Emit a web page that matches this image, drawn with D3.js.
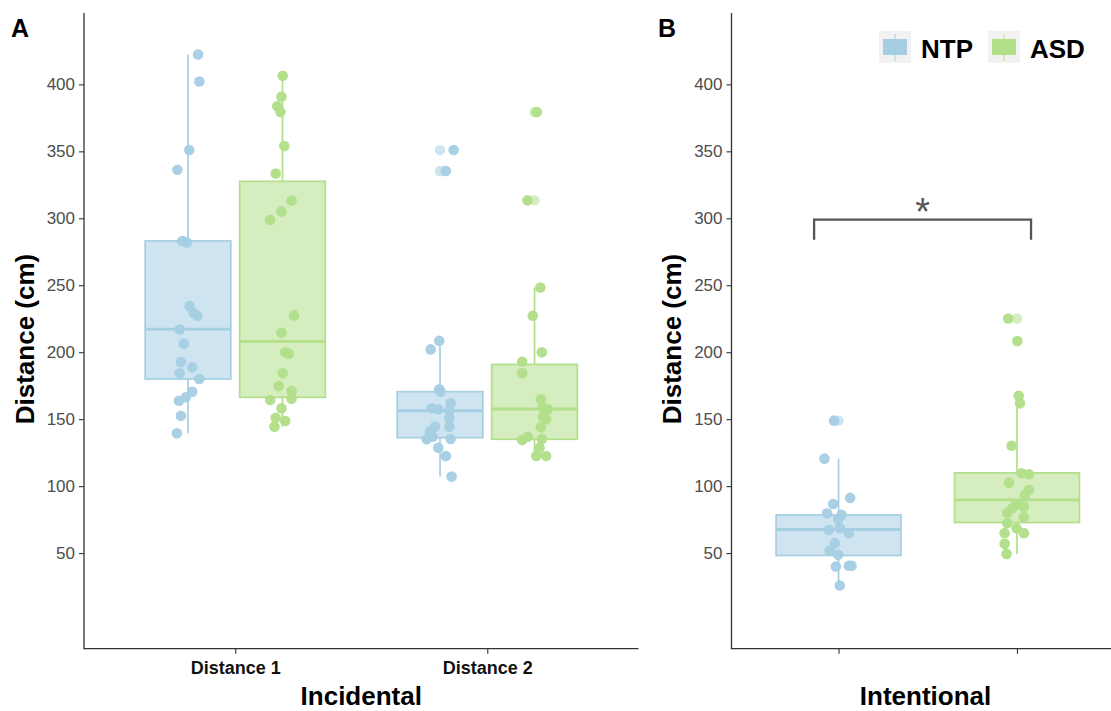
<!DOCTYPE html>
<html>
<head>
<meta charset="utf-8">
<script src="https://cdn.jsdelivr.net/npm/d3@7"></script>
<style>
  html, body { margin: 0; padding: 0; background: #fff; }
  svg { display: block; font-family: "Liberation Sans", Arial, sans-serif; }
</style>
</head>
<body>
<svg id="chart" width="1111" height="711"></svg>
<script>
// ---------------- DATA ----------------
const categoriesA = ["Distance 1", "Distance 2"];
const categoriesB = ["NTP", "ASD"];
const groups = ["NTP", "ASD"];
const yTicks = [50, 100, 150, 200, 250, 300, 350, 400];

// box statistics: [low whisker, q1, median, q3, high whisker]
const boxNTP_D1 = [139.5, 180.0, 217.2, 283.1, 422.3];
const boxASD_D1 = [144.4, 166.3, 208.1, 327.6, 406.4];
const boxNTP_D2 = [107.1, 136.2, 156.3, 170.5, 208.5];
const boxASD_D2 = [122.5, 135.0, 157.6, 190.9, 248.3];
const boxNTP_B  = [25.8, 48.2, 67.6, 78.5, 120.5];
const boxASD_B  = [49.4, 72.8, 89.7, 109.9, 167.5];

// boxplot outliers
const outNTP_D1 = [];
const outASD_D1 = [];
const outNTP_D2 = [351.0, 335.3];
const outASD_D2 = [379.3, 313.4];
const outNTP_B  = [148.9];
const outASD_B  = [225.2];

// individual observations (cm) and their horizontal jitter (category units)
const ptsNTP_D1 = [422.3, 402.2, 351.0, 336.3, 283.1, 281.9, 234.4, 229.0, 227.2, 217.0, 206.3, 192.6, 188.7, 184.2, 180.0, 170.5, 166.3, 163.8, 152.6, 139.5];
const jitNTP_D1 = [0.040, 0.045, 0.005, -0.042, -0.023, -0.005, 0.007, 0.024, 0.037, -0.033, -0.016, -0.028, 0.017, -0.033, 0.045, 0.017, -0.009, -0.036, -0.028, -0.044];

const ptsASD_D1 = [406.4, 390.8, 383.6, 379.3, 353.9, 333.4, 313.2, 305.0, 298.8, 227.5, 214.5, 199.9, 198.8, 184.2, 174.7, 171.0, 165.3, 164.3, 158.1, 151.1, 148.6, 144.4];
const jitASD_D1 = [0.001, -0.004, -0.021, -0.008, 0.007, -0.027, 0.036, -0.004, -0.049, 0.046, -0.004, 0.011, 0.025, 0.001, -0.015, 0.036, 0.036, -0.049, -0.004, -0.027, 0.011, -0.032];

const ptsNTP_D2 = [351.0, 335.3, 208.5, 202.1, 172.3, 170.5, 161.8, 158.1, 157.4, 156.3, 150.6, 144.4, 144.4, 140.7, 135.0, 136.9, 135.2, 128.7, 122.5, 107.1];
const jitNTP_D2 = [0.054, 0.023, -0.003, -0.037, -0.003, 0.002, 0.042, -0.033, -0.007, 0.037, 0.037, 0.037, -0.020, -0.040, -0.053, -0.029, 0.042, -0.007, 0.023, 0.046];

const ptsASD_D2 = [379.3, 313.4, 248.3, 227.2, 199.9, 192.9, 184.2, 164.8, 158.8, 157.4, 151.8, 149.9, 143.9, 136.9, 134.4, 135.2, 128.7, 122.5, 122.5];
const jitASD_D2 = [0.009, -0.028, 0.023, -0.007, 0.029, -0.049, -0.049, 0.025, 0.033, 0.053, 0.033, 0.046, 0.025, -0.027, -0.049, 0.029, 0.020, 0.007, 0.046];

const ptsNTP_B = [148.9, 120.5, 91.2, 86.7, 79.8, 78.5, 75.3, 68.6, 67.3, 64.9, 57.4, 51.9, 48.7, 40.0, 40.5, 40.5, 25.8];
const jitNTP_B = [-0.025, -0.079, 0.065, -0.030, -0.064, 0.017, -0.002, 0.007, -0.054, 0.058, -0.021, -0.049, -0.002, -0.015, 0.058, 0.073, 0.007];

const ptsASD_B = [225.2, 208.3, 167.5, 161.8, 130.2, 109.6, 108.9, 102.6, 97.2, 93.4, 86.7, 83.5, 84.7, 80.2, 76.8, 72.3, 68.6, 64.9, 64.9, 56.9, 49.4];
const jitASD_B = [-0.049, 0.002, 0.010, 0.017, -0.030, 0.026, 0.067, -0.045, 0.067, 0.045, -0.002, -0.026, 0.039, -0.054, 0.039, -0.054, -0.002, 0.039, -0.069, -0.069, -0.058];

// significance comparison (panel B): bracket ends in category units, heights in cm
const sigBracket = [0.863, 2.079];
const sigHeights = [284.0, 299.0];
const sigLabel = "*";

// ---------------- STYLE ----------------
const colors = { NTP: "#a6cee3", ASD: "#b2df8a" };
const FONT = '"Liberation Sans", Arial, sans-serif';

const svg = d3.select("#chart");

const y = d3.scaleLinear().domain([-21.4, 453.3]).range([648.7, 13]);
const xA = d3.scaleLinear().domain([0.4, 2.6]).range([84, 638.5]);
const xB = d3.scaleLinear().domain([0.4, 2.6]).range([731.5, 1124]);

function drawYAxis(g, x0) {
  const ax = g.append("g").attr("transform", `translate(${x0},0)`)
    .call(d3.axisLeft(y).tickValues(yTicks).tickSize(5).tickPadding(4).tickFormat(d3.format("d")));
  ax.select(".domain").remove();
  ax.selectAll(".tick line").attr("stroke", "#333").attr("stroke-width", 1.1);
  ax.selectAll(".tick text").attr("fill", "#4d4d4d").style("font-size", "17px").style("font-family", FONT);
  g.append("line").attr("x1", x0).attr("x2", x0).attr("y1", y.range()[1]).attr("y2", y.range()[0] + 0.5)
    .attr("stroke", "#333").attr("stroke-width", 1.3);
}

function drawXAxis(g, xs, labels, tickVals) {
  const ax = g.append("g").attr("transform", `translate(0,${y.range()[0]})`)
    .call(d3.axisBottom(xs).tickValues(tickVals).tickSize(5).tickPadding(8)
      .tickFormat((d, i) => labels[i]));
  ax.select(".domain").remove();
  ax.selectAll(".tick line").attr("stroke", "#333").attr("stroke-width", 1.1);
  ax.selectAll(".tick text").attr("fill", "#111").style("font-size", "18px")
    .style("font-weight", "bold").style("font-family", FONT);
  g.append("line").attr("x1", xs.range()[0]).attr("x2", xs.range()[1])
    .attr("y1", y.range()[0]).attr("y2", y.range()[0]).attr("stroke", "#333").attr("stroke-width", 1.3);
}

function drawBox(g, xs, center, halfW, stats, outliers, pts, jit, color) {
  const [lo, q1, med, q3, hi] = stats;
  const cx = xs(center);
  const x0 = xs(center - halfW), x1 = xs(center + halfW);
  g.append("line").attr("x1", cx).attr("x2", cx).attr("y1", y(q3)).attr("y2", y(hi))
    .attr("stroke", color).attr("stroke-width", 1.7);
  g.append("line").attr("x1", cx).attr("x2", cx).attr("y1", y(q1)).attr("y2", y(lo))
    .attr("stroke", color).attr("stroke-width", 1.7);
  g.append("rect").attr("x", x0).attr("y", y(q3)).attr("width", x1 - x0).attr("height", y(q1) - y(q3))
    .attr("fill", color).attr("fill-opacity", 0.55).attr("stroke", color).attr("stroke-width", 1.7);
  g.append("line").attr("x1", x0).attr("x2", x1).attr("y1", y(med)).attr("y2", y(med))
    .attr("stroke", color).attr("stroke-width", 2.8);
  g.selectAll(null).data(outliers).enter().append("circle")
    .attr("cx", cx).attr("cy", d => y(d)).attr("r", 5.2)
    .attr("fill", color).attr("fill-opacity", 0.55);
  g.selectAll(null).data(pts.map((v, i) => [v, jit[i]])).enter().append("circle")
    .attr("cx", d => xs(center + d[1])).attr("cy", d => y(d[0])).attr("r", 5.3)
    .attr("fill", color).attr("fill-opacity", 0.97);
}

// ---------------- PANEL A ----------------
const gA = svg.append("g");
const dodge = 0.1875, halfA = 0.17;
drawBox(gA, xA, 1 - dodge, halfA, boxNTP_D1, outNTP_D1, ptsNTP_D1, jitNTP_D1, colors.NTP);
drawBox(gA, xA, 1 + dodge, halfA, boxASD_D1, outASD_D1, ptsASD_D1, jitASD_D1, colors.ASD);
drawBox(gA, xA, 2 - dodge, halfA, boxNTP_D2, outNTP_D2, ptsNTP_D2, jitNTP_D2, colors.NTP);
drawBox(gA, xA, 2 + dodge, halfA, boxASD_D2, outASD_D2, ptsASD_D2, jitASD_D2, colors.ASD);
drawYAxis(gA, xA.range()[0]);
drawXAxis(gA, xA, categoriesA, [1, 2]);

// ---------------- PANEL B ----------------
const gB = svg.append("g");
drawBox(gB, xB, 1, 0.35, boxNTP_B, outNTP_B, ptsNTP_B, jitNTP_B, colors.NTP);
drawBox(gB, xB, 2, 0.35, boxASD_B, outASD_B, ptsASD_B, jitASD_B, colors.ASD);
drawYAxis(gB, xB.range()[0]);
drawXAxis(gB, xB, ["", ""], [1, 2]);

const [bx0, bx1] = sigBracket.map(xB);
const [hLo, hHi] = sigHeights.map(y);
gB.append("path")
  .attr("d", `M${bx0},${hLo} L${bx0},${hHi} L${bx1},${hHi} L${bx1},${hLo}`)
  .attr("fill", "none").attr("stroke", "#555").attr("stroke-width", 2.3);
gB.append("text").attr("x", (bx0 + bx1) / 2).attr("y", hHi + 5)
  .attr("text-anchor", "middle").attr("fill", "#555").style("font-size", "38px").style("font-family", FONT)
  .text(sigLabel);

// ---------------- TITLES ----------------
function ytitle(x, cy) {
  svg.append("text").attr("transform", `translate(${x},${cy}) rotate(-90)`)
    .attr("text-anchor", "middle").style("font-size", "26px").style("font-weight", "bold")
    .style("font-family", FONT).attr("fill", "#000").text("Distance (cm)");
}
ytitle(34, 339);
ytitle(681, 339);

svg.append("text").attr("x", (xA.range()[0] + xA.range()[1]) / 2).attr("y", 705)
  .attr("text-anchor", "middle").style("font-size", "26px").style("font-weight", "bold")
  .style("font-family", FONT).text("Incidental");
svg.append("text").attr("x", 925.5).attr("y", 705)
  .attr("text-anchor", "middle").style("font-size", "26px").style("font-weight", "bold")
  .style("font-family", FONT).text("Intentional");

svg.append("text").attr("x", 11).attr("y", 37).style("font-size", "25px").style("font-weight", "bold")
  .style("font-family", FONT).text("A");
svg.append("text").attr("x", 658).attr("y", 37).style("font-size", "25px").style("font-weight", "bold")
  .style("font-family", FONT).text("B");

// ---------------- LEGEND ----------------
const legendX = [879, 988];
groups.forEach((gname, i) => {
  const lx = legendX[i], ly = 31, s = 32;
  const lg = svg.append("g");
  lg.append("rect").attr("x", lx).attr("y", ly).attr("width", s).attr("height", s).attr("fill", "#f2f2f2");
  lg.append("line").attr("x1", lx + s / 2).attr("x2", lx + s / 2).attr("y1", ly + 3).attr("y2", ly + s - 2)
    .attr("stroke", colors[gname]).attr("stroke-width", 1);
  lg.append("rect").attr("x", lx + 4.5).attr("y", ly + 8.5).attr("width", s - 9).attr("height", s - 17)
    .attr("fill", colors[gname]).attr("stroke", colors[gname]).attr("stroke-width", 1);
  lg.append("text").attr("x", lx + s + 10).attr("y", ly + 27).style("font-size", "26px").style("font-weight", "bold")
    .style("font-family", FONT).text(gname);
});
</script>
</body>
</html>
